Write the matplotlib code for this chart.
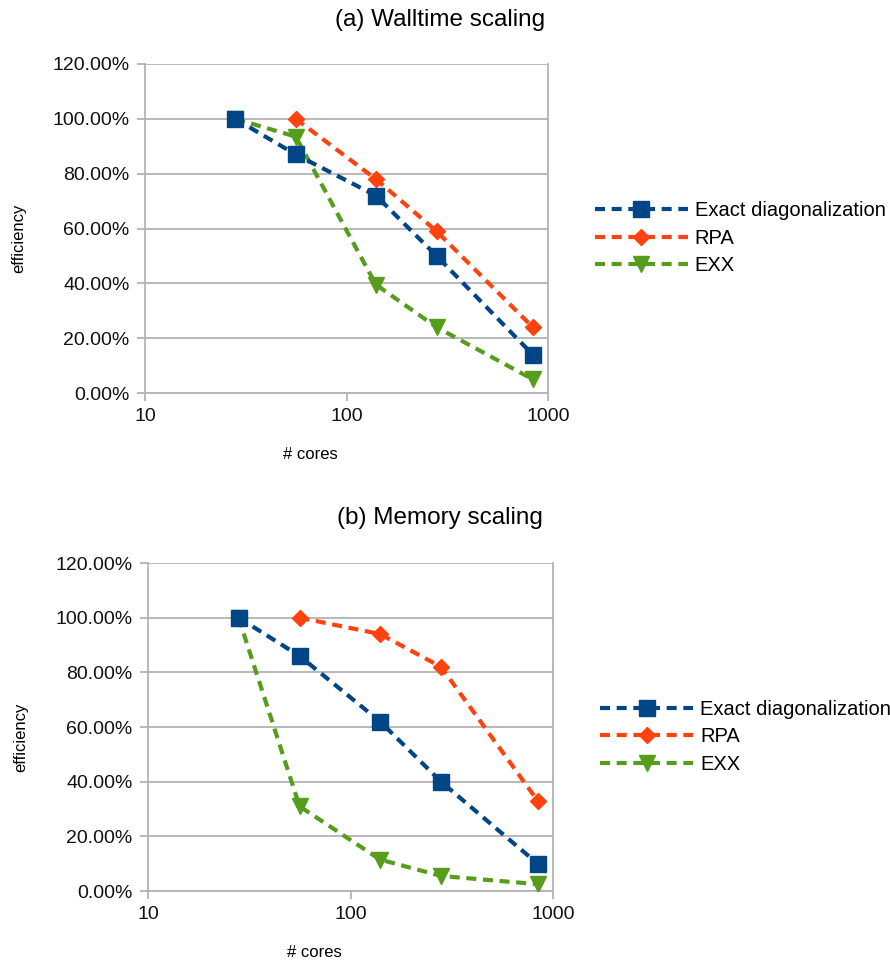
import matplotlib
matplotlib.use("Agg")
import matplotlib.pyplot as plt
from matplotlib.ticker import FuncFormatter, FixedLocator

plt.rcParams['font.family'] = ['Liberation Sans', 'DejaVu Sans']

cores = [28, 56, 140, 280, 840]
rpa_cores = [56, 140, 280, 840]

# (a) walltime efficiency, %
wall_exact = [100, 87, 72, 50, 14]
wall_rpa = [100, 78, 59, 24]
wall_exx = [100, 93.5, 39.5, 24, 5]

# (b) memory efficiency, %
mem_exact = [100, 86, 62, 40, 10]
mem_rpa = [100, 94, 82, 33]
mem_exx = [100, 31, 11.5, 5.5, 2.5]

labels = ['Exact diagonalization', 'RPA', 'EXX']
colors = ['#004586', '#ff420e', '#579d1c']
markers = ['s', 'D', 'v']
msizes = [12, 8.5, 11.5]
zorders = [5, 4, 3]


def draw_panel(ax, exact, rpa, exx):
    series = [(cores, exact), (rpa_cores, rpa), (cores, exx)]
    for (x, y), lab, c, m, ms, z in zip(series, labels, colors, markers,
                                        msizes, zorders):
        ax.plot(x, y, linestyle=(0, (2.4, 1.6)), linewidth=3, color=c,
                marker=m, markersize=ms, label=lab, zorder=z)
    ax.set_xscale('log')
    ax.set_xlim(10, 1000)
    ax.set_ylim(0, 120)
    ax.set_yticks(range(0, 121, 20))
    ax.yaxis.set_major_formatter(FuncFormatter(lambda v, p: '%.2f%%' % v))
    ax.xaxis.set_major_locator(FixedLocator([10, 100, 1000]))
    ax.xaxis.set_minor_locator(FixedLocator([]))
    ax.xaxis.set_major_formatter(FuncFormatter(lambda v, p: '%d' % v))
    ax.grid(axis='y', color='#b3b3b3', linewidth=1.3)
    ax.spines['top'].set_visible(False)
    for s in ['left', 'right', 'bottom']:
        ax.spines[s].set_color('#b3b3b3')
        ax.spines[s].set_linewidth(1.3)
    ax.tick_params(axis='both', colors='#b3b3b3', labelcolor='#111111',
                   labelsize=14, length=6, width=1.3)
    ax.tick_params(axis='y', pad=5)
    ax.tick_params(axis='x', pad=5)
    ax.set_xlabel('# cores', fontsize=12)
    ax.set_ylabel('efficiency', fontsize=12)
    ax.xaxis.set_label_coords(0.41, -0.165)
    ax.yaxis.set_label_coords(-0.295, 0.47)
    ax.legend(loc='center left', bbox_to_anchor=(1.117, 0.47), frameon=False,
              fontsize=14.5, handlelength=4.6, handletextpad=0.35,
              labelspacing=0.42, borderaxespad=0, borderpad=0)


fig = plt.figure(figsize=(8.9, 9.65), dpi=100)
ax1 = fig.add_axes([145 / 890, 1 - 393 / 965, 403 / 890, 329 / 965])
ax2 = fig.add_axes([148 / 890, 1 - 891 / 965, 405 / 890, 328 / 965])

draw_panel(ax1, wall_exact, wall_rpa, wall_exx)
draw_panel(ax2, mem_exact, mem_rpa, mem_exx)

fig.text(440 / 890, 1 - 20 / 965, '(a) Walltime scaling', fontsize=17.5,
         ha='center', va='center')
fig.text(440 / 890, 1 - 518 / 965, '(b) Memory scaling', fontsize=17.5,
         ha='center', va='center')

fig.savefig('out.png', dpi=100)
